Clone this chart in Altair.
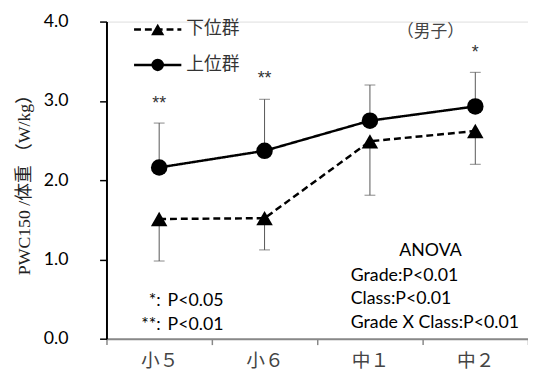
import altair as alt
import pandas as pd

grades = ["小５", "小６", "中１", "中２"]
upper_mean = [2.16, 2.37, 2.75, 2.93]
upper_err = [2.72, 3.02, 3.20, 3.36]
lower_mean = [1.51, 1.52, 2.49, 2.62]
lower_err = [0.98, 1.12, 1.81, 2.20]
sig_grades = ["小５", "小６", "中２"]
sig_text = ["**", "**", "*"]
sig_y = [2.96, 3.27, 3.6]

SERIF = "'Liberation Serif', 'Noto Sans CJK JP'"
CJK = "'Noto Sans CJK JP'"
SANS = "Lato, 'Liberation Sans'"

up = pd.DataFrame({"grade": grades, "mean": upper_mean, "err": upper_err})
lo = pd.DataFrame({"grade": grades, "mean": lower_mean, "err": lower_err})
sig = pd.DataFrame({"grade": sig_grades, "t": sig_text, "y": sig_y})

xenc = alt.X("grade:N", sort=grades,
             scale=alt.Scale(domain=grades, paddingInner=0, paddingOuter=0),
             axis=alt.Axis(title=None, tickBand="extent", domainColor="#888888",
                           domainWidth=2, tickColor="#888888", tickSize=6, tickWidth=1.5,
                           labelFontSize=19, labelFont=SERIF, labelColor="#444444",
                           labelPadding=7, labelAngle=0))
yscale = alt.Scale(domain=[0, 4], nice=False)
yaxis = alt.Axis(title="PWC150 /体重 （W/kg）", values=[0, 1, 2, 3, 4], format=".1f",
                 grid=False, domainColor="black", domainWidth=2, tickColor="black",
                 tickSize=7, tickWidth=1.5, labelFontSize=18, labelFont=SANS,
                 labelColor="black", labelPadding=32, titleFont=SERIF,
                 titleFontSize=18, titleFontWeight="normal", titleColor="#222222",
                 titlePadding=10)


def series(df, dash, shape, size):
    base = alt.Chart(df)
    rule = base.mark_rule(color="#555555", strokeWidth=1).encode(
        x=xenc, y=alt.Y("mean:Q", scale=yscale, axis=yaxis), y2="err:Q")
    cap = base.mark_tick(color="#555555", thickness=1, size=11).encode(
        x=xenc, y=alt.Y("err:Q", scale=yscale))
    line = base.mark_line(color="black", strokeWidth=2.5, strokeDash=dash).encode(
        x=xenc, y=alt.Y("mean:Q", scale=yscale))
    pts = base.mark_point(color="black", filled=True, opacity=1, shape=shape, size=size).encode(
        x=xenc, y=alt.Y("mean:Q", scale=yscale))
    return [rule, cap, line, pts]


layers = series(lo, [7, 4], "triangle-up", 280) + series(up, [1, 0], "circle", 280)

stars = alt.Chart(sig).mark_text(fontSize=18, font="'Liberation Sans'", baseline="middle").encode(
    x=xenc, y=alt.Y("y:Q", scale=yscale), text="t:N", color=alt.value("#333333"))
layers.append(stars)

one = alt.Data(values=[{"a": 1}])


def txt(s, x, y, size=18, align="left", font=SANS, color="black"):
    return alt.Chart(one).mark_text(text=s, fontSize=size, align=align, baseline="middle",
                                    font=font).encode(
        x=alt.value(x), y=alt.value(y), color=alt.value(color))


# legend
layers.append(alt.Chart(one).mark_rule(color="black", strokeWidth=2.5, strokeDash=[7, 4]).encode(
    x=alt.value(28), x2=alt.value(76), y=alt.value(8)))
layers.append(alt.Chart(one).mark_point(color="black", filled=True, opacity=1,
                                        shape="triangle-up", size=180).encode(
    x=alt.value(52), y=alt.value(8)))
layers.append(alt.Chart(one).mark_rule(color="black", strokeWidth=2.5).encode(
    x=alt.value(28), x2=alt.value(76), y=alt.value(44)))
layers.append(alt.Chart(one).mark_point(color="black", filled=True, opacity=1,
                                        shape="circle", size=160).encode(
    x=alt.value(52), y=alt.value(44)))
layers.append(txt("下位群", 81, 8, 18, font=CJK, color="#333333"))
layers.append(txt("上位群", 81, 44, 18, font=CJK, color="#333333"))
layers.append(txt("（男子）", 329, 11, 17, align="center", font=CJK, color="#444444"))

# footnotes
layers.append(txt("*:", 55, 284, 18, align="right"))
layers.append(txt("**:", 55, 308, 18, align="right"))
layers.append(txt("P<0.05", 62, 284, 18))
layers.append(txt("P<0.01", 62, 308, 18))

# ANOVA
layers.append(txt("ANOVA", 329, 233, 18, align="center"))
layers.append(txt("Grade:P<0.01", 248, 258, 18))
layers.append(txt("Class:P<0.01", 248, 282, 18))
layers.append(txt("Grade X Class:P<0.01", 248, 306, 18))

chart = alt.layer(*layers).properties(
    width=428, height=322,
    autosize=alt.AutoSizeParams(type="none"),
    padding={"left": 100, "top": 11, "right": 0, "bottom": 30},
).configure_view(stroke=None).configure(background="white")

chart.save("out.html", embed_options={"renderer": "svg", "actions": False})
